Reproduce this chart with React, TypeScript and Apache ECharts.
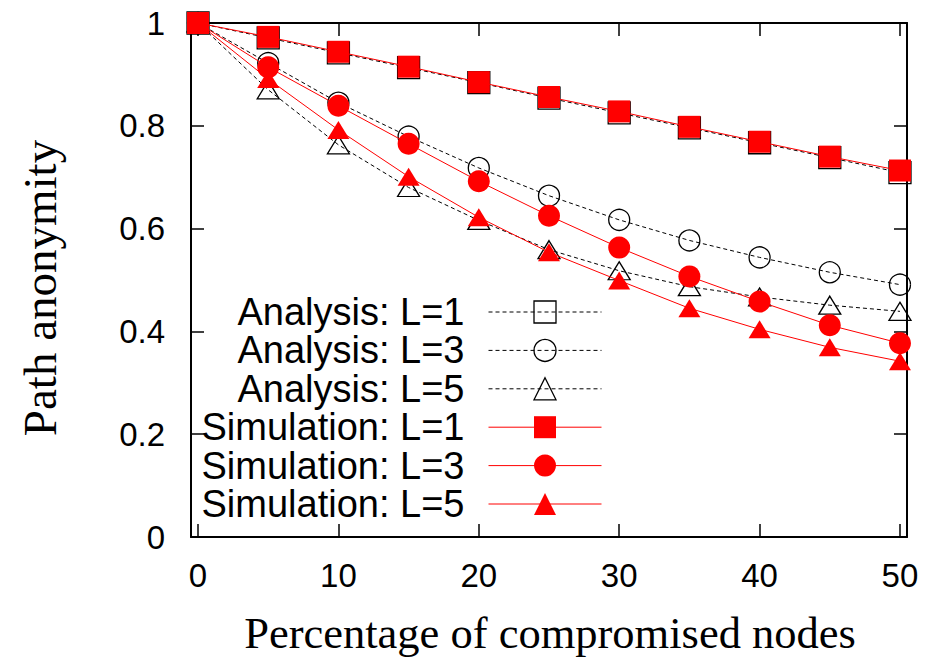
import React, { useEffect, useRef } from "react";
import * as echarts from "echarts";

const xValues = [0, 5, 10, 15, 20, 25, 30, 35, 40, 45, 50];
const analysisL1 = [1.0, 0.971, 0.942, 0.913, 0.884, 0.854, 0.825, 0.796, 0.767, 0.738, 0.709];
const analysisL3 = [1.0, 0.922, 0.845, 0.779, 0.718, 0.664, 0.617, 0.577, 0.544, 0.515, 0.491];
const analysisL5 = [1.0, 0.87, 0.763, 0.68, 0.616, 0.559, 0.518, 0.487, 0.467, 0.451, 0.439];
const simulationL1 = [1.0, 0.973, 0.944, 0.915, 0.885, 0.856, 0.828, 0.798, 0.769, 0.74, 0.713];
const simulationL3 = [1.0, 0.914, 0.839, 0.765, 0.692, 0.625, 0.563, 0.507, 0.458, 0.412, 0.377];
const simulationL5 = [1.0, 0.891, 0.792, 0.701, 0.622, 0.554, 0.499, 0.445, 0.404, 0.369, 0.342];

const xTicks = [0, 10, 20, 30, 40, 50];
const xLabel = "Percentage of compromised nodes";
const yLabel = "Path anonymity";

const SANS = "'Liberation Sans', Arial, Helvetica, sans-serif";
const SERIF = "'Liberation Serif', 'Times New Roman', serif";

const pair = (ys: number[]) => xValues.map((x, i) => [x, ys[i]]);

export default function App() {
  const ref = useRef<HTMLDivElement>(null);
  useEffect(() => {
    if (!ref.current) return;
    const chart = echarts.init(ref.current, undefined, { renderer: "svg" });

    const axisLine = { show: true, onZero: false, lineStyle: { color: "#000", width: 2 } };
    const tick = { show: true, inside: true, length: 13, lineStyle: { color: "#000", width: 1.5 } };
    const label = { color: "#000", fontSize: 33, fontFamily: SANS };

    const analysis = (name: string, data: number[], symbol: string, size: any) => ({
      name,
      type: "line",
      data: pair(data),
      symbol,
      symbolSize: size,
      showAllSymbol: true,
      clip: false,
      lineStyle: { color: "#000", width: 1, type: [4, 3] },
      itemStyle: { color: "rgba(0,0,0,0)", borderColor: "#000", borderWidth: 1.3 },
      emphasis: { disabled: true },
      z: 2,
    });
    const simulation = (name: string, data: number[], symbol: string, size: any) => ({
      name,
      type: "line",
      data: pair(data),
      symbol,
      symbolSize: size,
      showAllSymbol: true,
      clip: false,
      lineStyle: { color: "#ff0000", width: 1 },
      itemStyle: { color: "#ff0000", borderWidth: 0 },
      emphasis: { disabled: true },
      z: 3,
    });

    chart.setOption({
      animation: false,
      backgroundColor: "#fff",
      grid: { left: 191, top: 23, right: 31, bottom: 122, containLabel: false },
      legend: {
        orient: "vertical",
        align: "right",
        right: 336,
        top: 293,
        padding: 0,
        itemWidth: 113,
        itemHeight: 27.5,
        itemGap: 0.4,
        selectedMode: false,
        textStyle: { color: "#000", fontSize: 38, fontFamily: SANS, padding: [0, 19, 0, 0] },
        lineStyle: { width: 1 },
        itemStyle: { borderWidth: 1.3 },
        data: [
          "Analysis: L=1",
          "Analysis: L=3",
          "Analysis: L=5",
          "Simulation: L=1",
          "Simulation: L=3",
          "Simulation: L=5",
        ],
      },
      xAxis: [
        {
          type: "value",
          position: "bottom",
          min: -0.5,
          max: 50.5,
          axisLine,
          axisTick: { ...tick, customValues: xTicks },
          axisLabel: { ...label, margin: 22, customValues: xTicks },
          splitLine: { show: false },
        },
        {
          type: "value",
          position: "top",
          min: -0.5,
          max: 50.5,
          axisLine,
          axisTick: { ...tick, customValues: xTicks },
          axisLabel: { show: false },
          splitLine: { show: false },
        },
      ],
      yAxis: [
        {
          type: "value",
          position: "left",
          min: 0,
          max: 1,
          interval: 0.2,
          axisLine,
          axisTick: tick,
          axisLabel: { ...label, margin: 26 },
          splitLine: { show: false },
        },
        {
          type: "value",
          position: "right",
          min: 0,
          max: 1,
          interval: 0.2,
          axisLine,
          axisTick: tick,
          axisLabel: { show: false },
          splitLine: { show: false },
        },
      ],
      graphic: [
        {
          type: "text",
          x: 550,
          y: 633,
          style: {
            text: xLabel,
            font: `44.5px ${SERIF}`,
            fill: "#000",
            textAlign: "center",
            textVerticalAlign: "middle",
          },
        },
        {
          type: "text",
          x: 40,
          y: 288,
          rotation: Math.PI / 2,
          style: {
            text: yLabel,
            font: `47px ${SERIF}`,
            fill: "#000",
            textAlign: "center",
            textVerticalAlign: "middle",
          },
        },
      ],
      series: [
        analysis("Analysis: L=1", analysisL1, "rect", 22),
        analysis("Analysis: L=3", analysisL3, "circle", 21),
        analysis("Analysis: L=5", analysisL5, "triangle", [22, 18]),
        simulation("Simulation: L=1", simulationL1, "rect", 22),
        simulation("Simulation: L=3", simulationL3, "circle", 22),
        simulation("Simulation: L=5", simulationL5, "triangle", [22, 18]),
      ],
    });
    return () => chart.dispose();
  }, []);
  return (
    <div
      ref={ref}
      style={{ position: "fixed", left: 0, top: 0, width: 938, height: 659, background: "#fff" }}
    />
  );
}
